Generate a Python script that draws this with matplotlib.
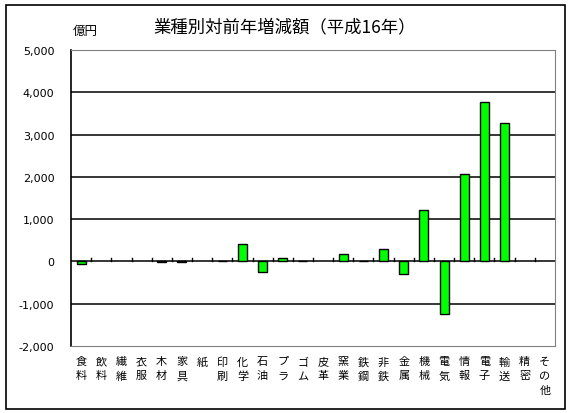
import matplotlib
matplotlib.use('Agg')
import matplotlib.pyplot as plt
from matplotlib.patches import Rectangle
from matplotlib.ticker import FuncFormatter
import numpy as np

plt.rcParams['font.family'] = ['Noto Sans CJK JP', 'DejaVu Sans']

categories = ['食料', '飲料', '繊維', '衣服', '木材', '家具', '紙', '印刷', '化学', '石油',
              'プラ', 'ゴム', '皮革', '窯業', '鉄鋼', '非鉄', '金属', '機械', '電気', '情報',
              '電子', '輸送', '精密', 'その他']
values = [-70, 0, 0, 0, -20, -20, 0, 20, 420, -245,
          90, 20, 0, 165, 20, 300, -290, 1225, -1240, 2060,
          3765, 3275, 0, 0]

fig = plt.figure(figsize=(5.72, 4.14), dpi=100)
ax = fig.add_axes([71 / 572, 1 - 347 / 414, 484 / 572, 296 / 414])

x = np.arange(len(categories))
vals = np.array(values, dtype=float)
nz = vals != 0
ax.bar(x[nz], vals[nz], width=0.45, color='#00ff00', edgecolor='black', linewidth=1, zorder=3)

ax.set_xlim(-0.5, len(categories) - 0.5)
ax.set_ylim(-2000, 5000)
ax.set_yticks(np.arange(-2000, 5001, 1000))
ax.yaxis.set_major_formatter(FuncFormatter(lambda v, p: f'{int(v):,}'))
ax.tick_params(axis='y', length=0, pad=12, labelsize=8)
for lab in ax.get_yticklabels():
    lab.set_family(['DejaVu Sans'])
for yv in range(-1000, 5000, 1000):
    ax.axhline(yv, color='black', linewidth=1.1, zorder=1)

# category boundary ticks on the zero line
ax.set_xticks([])
for b in np.arange(0.5, len(categories) - 0.5, 1.0):
    ax.plot([b, b], [0, 70], color='black', linewidth=1, zorder=2)

for side in ['top', 'right', 'bottom']:
    ax.spines[side].set_color('#808080')
ax.spines['left'].set_color('black')
ax.spines['left'].set_linewidth(1.2)

# vertical stacked category labels
for i, c in enumerate(categories):
    ax.text(i, -0.035, '\n'.join(c), transform=ax.get_xaxis_transform(),
            ha='center', va='top', fontsize=8, linespacing=1.5)

fig.text(285 / 572, 1 - 27 / 414, '業種別対前年増減額（平成16年）', ha='center', va='center', fontsize=12.5)
fig.text(85 / 572, 1 - 31 / 414, '億円', ha='center', va='center', fontsize=9)

fig.patches.append(Rectangle((6 / 572, 1 - 410 / 414), 559 / 572, 404 / 414,
                             transform=fig.transFigure, fill=False,
                             edgecolor='black', linewidth=1.2))

fig.savefig('out.png', dpi=100)
